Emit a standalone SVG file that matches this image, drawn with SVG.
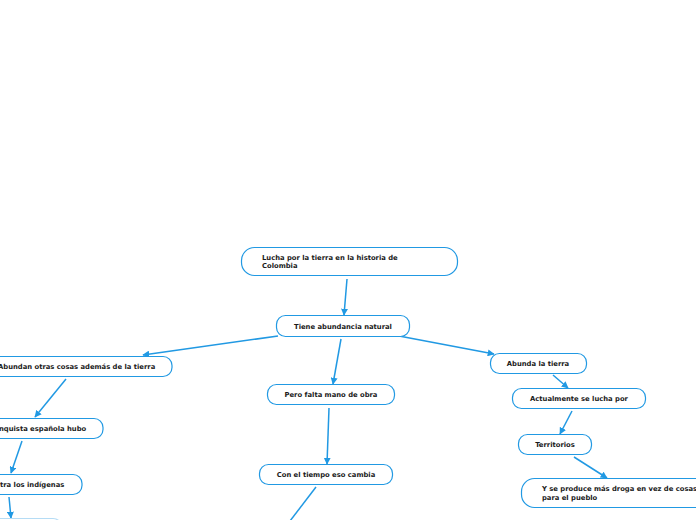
<svg xmlns="http://www.w3.org/2000/svg" width="696" height="520" viewBox="0 0 696 520">
<defs>
<marker id="ah" viewBox="0 0 10 10" refX="9" refY="5" markerWidth="7" markerHeight="7" orient="auto" markerUnits="userSpaceOnUse">
<path d="M0,0 L10,5 L0,10 z" fill="#2199e3"/>
</marker>
<style>
.n{fill:#fff;stroke:#2199e3;stroke-width:1.2}
.t{font-family:"DejaVu Sans",Verdana,sans-serif;font-weight:bold;font-size:6.8px;fill:#1a1a1a}
.c{text-anchor:middle}
.e{fill:none;stroke:#2199e3;stroke-width:1.5;marker-end:url(#ah)}
</style>
</defs>
<rect width="696" height="520" fill="#fff"/>
<g id="connectors">
<line class="e" x1="347" y1="279" x2="344" y2="315"/>
<line class="e" x1="278" y1="336" x2="143" y2="355"/>
<line class="e" x1="66" y1="379" x2="35" y2="417"/>
<line class="e" x1="22" y1="441" x2="11" y2="473"/>
<line class="e" x1="9" y1="497" x2="11" y2="518"/>
<line class="e" x1="341" y1="339" x2="333" y2="384"/>
<line class="e" x1="329" y1="408" x2="327" y2="464"/>
<line x1="316" y1="487" x2="290" y2="521" style="fill:none;stroke:#2199e3;stroke-width:1.5"/>
<line class="e" x1="399" y1="336" x2="494" y2="354"/>
<line class="e" x1="553" y1="375" x2="568" y2="388"/>
<line class="e" x1="572" y1="411" x2="560" y2="434"/>
<line class="e" x1="574" y1="457" x2="607" y2="478"/>
</g>
<g id="n1"><rect class="n" x="241.5" y="247.5" width="216" height="28" rx="13"/>
<text class="t" x="262" y="259.5">Lucha por la tierra en la historia de</text>
<text class="t" x="262" y="268">Colombia</text></g>
<g id="n2"><rect class="n" x="276.5" y="315.5" width="133" height="21" rx="9"/>
<text class="t c" x="343" y="328.5">Tiene abundancia natural</text></g>
<g id="n3"><rect class="n" x="-20" y="356.5" width="192" height="20" rx="9"/>
<text class="t" x="-2" y="369">Abundan otras cosas además de la tierra</text></g>
<g id="n4"><rect class="n" x="-40" y="418.5" width="143" height="20" rx="9"/>
<text class="t" x="-1" y="431">nquista española hubo</text></g>
<g id="n5"><rect class="n" x="-40" y="474.5" width="122" height="20" rx="9"/>
<text class="t" x="0" y="487">tra los indígenas</text></g>
<g id="n6"><rect class="n" x="-20" y="518.5" width="82" height="20" rx="9" style="stroke:#b5dcf5"/></g>
<g id="n7"><rect class="n" x="267.5" y="384.5" width="127" height="20" rx="9"/>
<text class="t c" x="331" y="397">Pero falta mano de obra</text></g>
<g id="n8"><rect class="n" x="259.5" y="464.5" width="133" height="20" rx="9"/>
<text class="t c" x="326" y="477">Con el tiempo eso cambia</text></g>
<g id="n9"><rect class="n" x="490.5" y="353.5" width="96" height="20" rx="9"/>
<text class="t c" x="538" y="366">Abunda la tierra</text></g>
<g id="n10"><rect class="n" x="512.5" y="388.5" width="133" height="20" rx="9"/>
<text class="t c" x="579" y="401">Actualmente se lucha por</text></g>
<g id="n11"><rect class="n" x="518.5" y="434.5" width="73" height="20" rx="9"/>
<text class="t c" x="555" y="447">Territorios</text></g>
<g id="n12"><rect class="n" x="521.5" y="478.5" width="200" height="29" rx="13"/>
<text class="t" x="542" y="490.5">Y se produce más droga en vez de cosas</text>
<text class="t" x="542" y="499.5">para el pueblo</text></g>
</svg>
